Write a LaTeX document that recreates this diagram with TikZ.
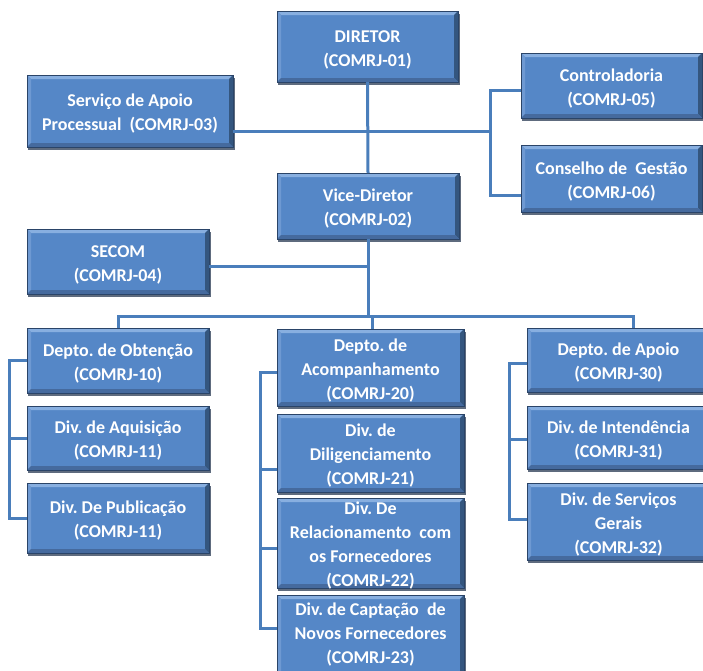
\documentclass[tikz,border=0pt]{standalone}
\usepackage{fontspec}
\setmainfont{Carlito}
\usetikzlibrary{fit,calc}
\definecolor{boxfill}{HTML}{5587C7}
\definecolor{boxline}{HTML}{2A4468}
\definecolor{bevtop}{HTML}{88AFE0}
\definecolor{bevleft}{HTML}{6E99D2}
\definecolor{bevright}{HTML}{34567F}
\definecolor{bevbot}{HTML}{456A9E}
\definecolor{connc}{HTML}{4A7EBB}
\definecolor{shadowc}{HTML}{5E6B7E}
\tikzset{
 orgbox/.style={draw=boxline, line width=1pt, fill=boxfill, inner sep=0pt, outer sep=0pt,
   path picture={
     \path (path picture bounding box.north west) coordinate (pnw)
           (path picture bounding box.north east) coordinate (pne)
           (path picture bounding box.south west) coordinate (psw)
           (path picture bounding box.south east) coordinate (pse);
     \fill[bevtop] (pnw) -- (pne) -- ([shift={(-4pt,-4pt)}]pne) -- ([shift={(4pt,-4pt)}]pnw) -- cycle;
     \fill[bevleft] (pnw) -- ([shift={(4pt,-4pt)}]pnw) -- ([shift={(4pt,4pt)}]psw) -- (psw) -- cycle;
     \fill[bevright] (pne) -- ([shift={(-4pt,-4pt)}]pne) -- ([shift={(-4pt,4pt)}]pse) -- (pse) -- cycle;
     \fill[bevbot] (psw) -- ([shift={(4pt,4pt)}]psw) -- ([shift={(-4pt,4pt)}]pse) -- (pse) -- cycle;
   }},
 boxtext/.style={text=white, font=\fontsize{18}{24}\selectfont\bfseries\frenchspacing, align=center, inner sep=0pt, yshift=-3pt},
 conn/.style={draw=connc, line width=3pt}
}
\newcommand\obox[7][]{%
 \fill[shadowc] (#3+1,#4+2.5) rectangle (#5+1.5,#6+2.5);
 \node[orgbox, fit={(#3,#4) (#5,#6)}] (#2) {};
 \node[boxtext,#1] (#2-t) at (#2.center) {#7};
}
\begin{document}
\frenchspacing
\begin{tikzpicture}[x=1pt,y=-1pt]
\path[clip] (0,0) rectangle (703,670);
\fill[white] (0,0) rectangle (703,670);
% boxes
\obox{dir}{277}{11}{458}{82}{DIRETOR\\(COMRJ-01)}
\obox{sap}{27}{75}{233}{147}{Serviço de Apoio\\Processual~ (COMRJ-03)}
\obox{ctrl}{521}{53}{702}{118}{Controladoria\\(COMRJ-05)}
\obox{cons}{521}{145}{702}{212}{Conselho de~ Gestão\\(COMRJ-06)}
\obox{vice}{277}{173}{459}{239}{Vice-Diretor\\(COMRJ-02)}
\obox{secom}{27}{229}{209}{294}{SECOM\\(COMRJ-04)}
\obox{d10}{27}{328}{209}{393}{Depto. de Obtenção\\(COMRJ-10)}
\obox{d11}{27}{406}{209}{470}{Div. de Aquisição\\(COMRJ-11)}
\obox{d11b}{27}{483}{209}{553}{Div. De Publicação\\(COMRJ-11)}
\obox{d20}{277}{329}{464}{406}{Depto. de\\Acompanhamento\\(COMRJ-20)}
\obox{d21}{277}{414}{464}{492}{Div. de\\Diligenciamento\\(COMRJ-21)}
\obox{d22}{277}{498}{464}{588}{Div. De\\Relacionamento~ com\\os Fornecedores\\(COMRJ-22)}
\obox[yshift=5.5pt]{d23}{277}{595}{464}{680}{Div. de Captação~ de\\Novos Fornecedores\\(COMRJ-23)}
\obox{d30}{527}{328}{710}{392}{Depto. de Apoio\\(COMRJ-30)}
\obox{d31}{527}{406}{710}{469}{Div. de Intendência\\(COMRJ-31)}
\obox{d32}{527}{483}{710}{560}{Div. de Serviços\\Gerais\\(COMRJ-32)}
% connectors top
\draw[conn] (dir.south) -- (vice.north);
\coordinate (jr) at (490,131);
\draw[conn] ([yshift=-20pt]sap.east) -- (jr);
\draw[conn] ([yshift=-4.5pt]ctrl.west) -| (jr);
\draw[conn] ([yshift=-16.5pt]cons.west) -| (jr);
\coordinate (bus) at (368,316);
\coordinate (sj) at (368,266);
\draw[conn] (vice.south) -- (bus);
\draw[conn] ([yshift=-4.5pt]secom.east) -- (sj);
\draw[conn] (d10.north) |- (bus);
\draw[conn] ([xshift=14.5pt]d30.north) |- (bus);
\draw[conn] ([xshift=1.5pt]d20.north) |- (bus);
% left bracket
\coordinate (lb) at (9,0);
\draw[conn] (d10.west) -- (d10.west -| lb) -- (d11b.west -| lb) -- (d11b.west);
\draw[conn] (d11.west) -- (d11.west -| lb);
% middle bracket
\coordinate (mb) at (260,0);
\coordinate (t20) at ([yshift=-4.5pt]d20.west);
\coordinate (t21) at ([yshift=-16pt]d21.west);
\coordinate (t22) at ([yshift=-5pt]d22.west);
\coordinate (t23) at ([yshift=9.5pt]d23.west);
\draw[conn] (t20) -- (t20 -| mb) -- (t23 -| mb) -- (t23);
\draw[conn] (t21) -- (t21 -| mb);
\draw[conn] (t22) -- (t22 -| mb);
% right bracket
\coordinate (rb) at (509,0);
\coordinate (t30) at ([yshift=-3pt]d30.west);
\coordinate (t31) at ([yshift=-1.5pt]d31.west);
\coordinate (t32) at ([yshift=2.5pt]d32.west);
\draw[conn] (t30) -- (t30 -| rb) -- (t32 -| rb) -- (t32);
\draw[conn] (t31) -- (t31 -| rb);
\end{tikzpicture}
\end{document}
